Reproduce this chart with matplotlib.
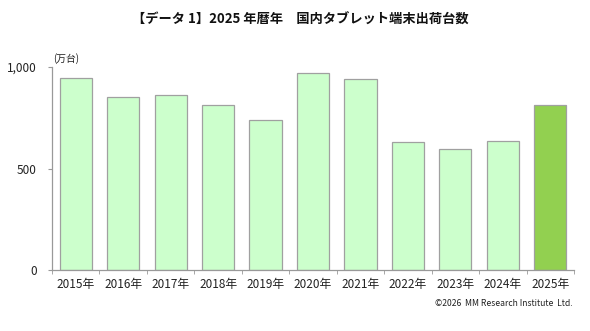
import matplotlib
matplotlib.use("Agg")
import matplotlib.pyplot as plt
import numpy as np

plt.rcParams['font.family'] = ['Noto Sans CJK JP', 'DejaVu Sans']

years = ["2015年", "2016年", "2017年", "2018年", "2019年", "2020年",
         "2021年", "2022年", "2023年", "2024年", "2025年"]
values = [944, 851, 864, 813, 739, 969, 939, 629, 595, 635, 811]
colors = ["#ccffcc"] * 10 + ["#92d050"]
yticks = [0, 500, 1000]
ytick_labels = ["0", "500", "1,000"]

fig = plt.figure(figsize=(5.9, 3.31), dpi=100)
ax = fig.add_axes([52/590, 1 - 270/331, (574 - 52)/590, (270 - 67)/331])

x = np.arange(len(years))
ax.bar(x, values, width=0.68, color=colors, edgecolor="#a0a0a0", linewidth=0.9)
ax.set_xlim(-0.5, len(years) - 0.5)
ax.set_ylim(0, 1000)
ax.set_yticks(yticks)
ax.set_yticklabels(ytick_labels, fontsize=8.5, color="#222222")
ax.set_xticks(x)
ax.set_xticklabels(years, fontsize=8.5, color="#222222")
ax.tick_params(axis="x", length=0, pad=6)
ax.set_xticks(np.arange(len(years) + 1) - 0.5, minor=True)
ax.tick_params(axis="x", which="minor", length=3, color="#999999", direction="out")
ax.tick_params(axis="y", length=3, color="#999999", pad=8)
for s in ["top", "right"]:
    ax.spines[s].set_visible(False)
for s in ["left", "bottom"]:
    ax.spines[s].set_color("#999999")
    ax.spines[s].set_linewidth(0.9)

fig.text(300/590, 1 - 20/331, "【データ 1】2025 年暦年　国内タブレット端末出荷台数",
         ha="center", va="center", fontsize=9.5, fontweight="bold", color="#111111")
fig.text(53/590, 1 - 59/331, "(万台)", ha="left", va="center", fontsize=7, color="#222222")
fig.text(573/590, 1 - 304/331, "©2026  MM Research Institute  Ltd.", ha="right",
         va="center", fontsize=6.2, color="#222222")

fig.savefig("out.png", dpi=100)
